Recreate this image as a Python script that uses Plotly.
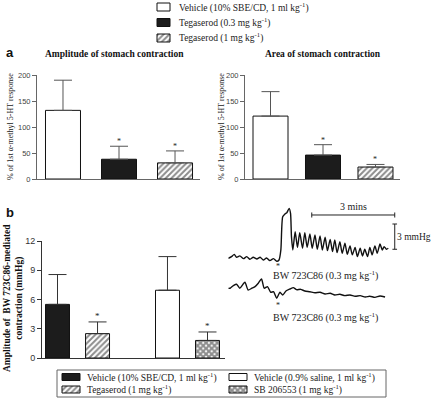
import plotly.graph_objects as go

W, H = 435, 410

# ---------------- data ----------------
# panel a (3 treatment groups)
a_groups = ["Vehicle (10% SBE/CD, 1 ml kg<sup>-1</sup>)",
            "Tegaserod (0.3 mg kg<sup>-1</sup>)",
            "Tegaserod (1 mg kg<sup>-1</sup>)"]
a_keys = ["veh", "teg03", "teg1"]
amp_mean = [132, 38, 31]
amp_err = [58, 25, 23]
area_mean = [121, 46, 23]
area_err = [47, 20, 5]
a_sig = [False, True, True]

# panel b (two experiments, two groups each)
b_groups = ["Vehicle (10% SBE/CD, 1 ml kg<sup>-1</sup>)",
            "Tegaserod (1 mg kg<sup>-1</sup>)",
            "Vehicle (0.9% saline, 1 ml kg<sup>-1</sup>)",
            "SB 206553 (1 mg kg<sup>-1</sup>)"]
b_exp = ["SBE/CD", "SBE/CD", "saline", "saline"]
b_mean = [5.5, 2.5, 6.95, 1.8]
b_err = [3.06, 1.2, 3.45, 0.87]
b_sig = [False, True, False, True]

# recordings (time in s, pressure in mmHg)
rec1_t = [0, 7, 13, 18, 25, 33, 40, 47, 54, 62, 69, 76, 83, 90, 98, 105, 110, 114, 118, 123,
          127, 132, 135, 137, 140, 145, 150, 155, 161, 166, 171, 177, 182, 188, 193, 199, 204,
          210, 215, 221, 226, 231, 236, 242, 247, 253, 258, 264, 269, 275, 280, 286, 291, 296,
          302, 307, 312, 318, 323, 329, 334, 338, 343, 347]
rec1_p = [0, 0.2, 0.47, 0.12, 0.28, -0.04, 0.2, -0.12, 0.12, -0.08, 0.12, -0.2, 0.04, -0.28,
          -0.04, -0.36, -0.2, 0.99, 4.94, 5.26, 5.41, 5.93, 5.34, 2.57, 0.99, 3.16, 1.30, 3.04,
          1.19, 3.04, 1.30, 2.89, 1.19, 2.77, 1.07, 2.65, 0.99, 2.49, 0.91, 2.25, 0.79, 2.17,
          0.67, 1.98, 0.59, 1.78, 0.47, 1.46, 0.40, 1.30, 0.20, 1.19, 0.28, 1.07, 0.20, 1.30,
          0.40, 1.46, 0.59, 1.70, 0.99, 1.38, 1.07, 1.19]
rec2_t = [0, 4, 11, 18, 25, 36, 43, 51, 58, 65, 72, 78, 85, 92, 98, 105, 112, 118, 125, 134,
          141, 148, 157, 166, 177, 188, 199, 210, 221, 231, 242, 253, 264, 275, 286, 297, 307,
          318, 329, 340]
rec2_p = [0.9, 0.92, 1.23, 1.39, 0.92, 1.63, 0.71, 0.92, 1.11, 1.51, 2.02, 0.92, 1.11, 0.44,
          0.51, -0.27, 0.44, 0.12, 0.59, 0.83, 0.99, 0.75, 0.79, 0.59, 0.51, 0.39, 0.44, 0.24,
          0.32, 0.12, 0.20, 0.04, 0.12, -0.04, 0.04, -0.12, -0.04, -0.16, 0, -0.12]
scale_time = 180   # 3 mins
scale_p = 3        # 3 mmHg
rec_label = "BW 723C86 (0.3 mg kg<sup>-1</sup>)"

# ---------------- styles ----------------
SERIF = "Liberation Serif"
SANS = "Liberation Sans"
HATCH = dict(shape="/", size=4, solidity=0.5, fgcolor="#1a1a1a", bgcolor="white")
CROSS = dict(shape="x", size=4, solidity=0.75, fgcolor="#1a1a1a", bgcolor="white")
a_styles = [("white", None), ("#1c1c1c", None), ("white", HATCH)]
b_styles = [("#1c1c1c", None), ("white", HATCH), ("white", None), ("white", CROSS)]
b_offsets = [-0.291, 0.073, -0.291, 0.073]
b_width = 0.218


def px(x):
    return x / W


def py(y):
    return 1 - y / H


def marker(style):
    m = dict(color=style[0], line=dict(color="#111", width=1))
    if style[1]:
        m["pattern"] = style[1]
    return m


def note(x, y, text, size, family=SERIF, color="#222", xa="center", ya="middle", **kw):
    d = dict(x=px(x), y=py(y), xref="paper", yref="paper", text=text, showarrow=False,
             xanchor=xa, yanchor=ya, font=dict(family=family, size=size, color=color))
    d.update(kw)
    return d


fig = go.Figure()

# panel a left
for i in range(3):
    fig.add_trace(go.Bar(
        x=[a_keys[i]], y=[amp_mean[i]], name=a_groups[i], marker=marker(a_styles[i]),
        width=0.625,
        error_y=dict(type="data", symmetric=False, array=[amp_err[i]], arrayminus=[0],
                     color="#555", thickness=1, width=9),
        xaxis="x", yaxis="y", showlegend=False))
# panel a right
for i in range(3):
    fig.add_trace(go.Bar(
        x=[a_keys[i]], y=[area_mean[i]], name=a_groups[i], marker=marker(a_styles[i]),
        width=0.667,
        error_y=dict(type="data", symmetric=False, array=[area_err[i]], arrayminus=[0],
                     color="#555", thickness=1, width=9),
        xaxis="x2", yaxis="y2", showlegend=False))
# panel b
for i in range(4):
    fig.add_trace(go.Bar(
        x=[b_exp[i]], y=[b_mean[i]], name=b_groups[i], marker=marker(b_styles[i]),
        width=b_width, offset=b_offsets[i],
        error_y=dict(type="data", symmetric=False, array=[b_err[i]], arrayminus=[0],
                     color="#333", thickness=1, width=9),
        xaxis="x3", yaxis="y3", showlegend=False))

# recordings
fig.add_trace(go.Scatter(x=rec1_t, y=rec1_p, mode="lines",
                         line=dict(color="#111", width=1.4, shape="spline", smoothing=0.6),
                         xaxis="x4", yaxis="y4", showlegend=False, hoverinfo="skip"))
fig.add_trace(go.Scatter(x=rec2_t, y=rec2_p, mode="lines",
                         line=dict(color="#111", width=1.4, shape="spline", smoothing=0.6),
                         xaxis="x4", yaxis="y5", showlegend=False, hoverinfo="skip"))

# ---- hand-made legends (keys on a pixel-unit overlay axis) ----
ann = []
top_key = dict(x0=157, w=13, h=8, row0=7, dy=15.5, text_x=177)
for i in range(3):
    cy = top_key["row0"] + i * top_key["dy"]
    fig.add_trace(go.Bar(x=[top_key["x0"] + top_key["w"] / 2], y=[top_key["h"]],
                         base=[cy - top_key["h"] / 2], width=[top_key["w"]],
                         marker=marker(a_styles[i]), xaxis="x6", yaxis="y6",
                         showlegend=False, hoverinfo="skip"))
    ann.append(note(top_key["text_x"], cy, a_groups[i], 9.5, xa="left"))
bot_order = [0, 2, 1, 3]
bot_key = dict(cols=[62, 229], w=18, h=7, row0=377, dy=12.5, gap=5)
for k, gi in enumerate(bot_order):
    col, row = k % 2, k // 2
    cy = bot_key["row0"] + row * bot_key["dy"]
    x0 = bot_key["cols"][col]
    fig.add_trace(go.Bar(x=[x0 + bot_key["w"] / 2], y=[bot_key["h"]],
                         base=[cy - bot_key["h"] / 2], width=[bot_key["w"]],
                         marker=marker(b_styles[gi]), xaxis="x6", yaxis="y6",
                         showlegend=False, hoverinfo="skip"))
    ann.append(note(x0 + bot_key["w"] + bot_key["gap"], cy, b_groups[gi], 9.5, xa="left"))

ya_common = dict(range=[0, 200], tickvals=[0, 50, 100, 150, 200], showline=True,
                 linecolor="#666", linewidth=1, ticks="outside", ticklen=4, tickcolor="#666",
                 tickfont=dict(family=SANS, size=7.5, color="#444"), showgrid=False,
                 zeroline=False, fixedrange=True)
xa_common = dict(showline=True, linecolor="#666", linewidth=1, showticklabels=False,
                 ticks="", showgrid=False, zeroline=False, type="category")

fig.update_layout(
    width=W, height=H, margin=dict(l=0, r=0, t=0, b=0, autoexpand=False),
    paper_bgcolor="white", plot_bgcolor="rgba(0,0,0,0)", barmode="overlay",
    showlegend=False,
    xaxis=dict(domain=[px(37), px(200)], range=[-0.464, 2.446], anchor="y", **xa_common),
    yaxis=dict(domain=[py(179), py(75)], anchor="x", **ya_common),
    xaxis2=dict(domain=[px(245), px(400)], range=[-0.486, 2.467], anchor="y2", **xa_common),
    yaxis2=dict(domain=[py(179), py(75)], anchor="x2", **ya_common),
    xaxis3=dict(domain=[px(42), px(225)], range=[-0.323, 1.341], anchor="y3",
                showline=True, linecolor="#333", linewidth=1, showticklabels=False, ticks="",
                showgrid=False, zeroline=False, type="category"),
    yaxis3=dict(domain=[py(358), py(241)], anchor="x3", range=[0, 12],
                tickvals=[0, 3, 6, 9, 12], showline=True, linecolor="#333", linewidth=1,
                ticks="outside", ticklen=4, tickcolor="#333",
                tickfont=dict(family=SANS, size=9, color="#333"), showgrid=False,
                zeroline=False),
    xaxis4=dict(domain=[px(228.3), px(403.5)], range=[0, 380], visible=False, anchor="y4"),
    yaxis4=dict(domain=[py(270), py(200)], range=[-1.39, 6.92], visible=False, anchor="x4"),
    yaxis5=dict(domain=[py(312), py(275)], range=[-1.90, 2.49], visible=False, anchor="x4"),
    xaxis6=dict(domain=[0, 1], range=[0, W], visible=False, anchor="y6", fixedrange=True),
    yaxis6=dict(domain=[0, 1], range=[H, 0], visible=False, anchor="x6", fixedrange=True),
)

# stars over bars
for i in range(3):
    if a_sig[i]:
        ann.append(dict(x=i, y=amp_mean[i] + amp_err[i], xref="x", yref="y", text="*",
                        showarrow=False, xanchor="center", yanchor="bottom", yshift=-2,
                        font=dict(family=SERIF, size=8, color="#222")))
        ann.append(dict(x=i, y=area_mean[i] + area_err[i], xref="x2", yref="y2", text="*",
                        showarrow=False, xanchor="center", yanchor="bottom", yshift=-2,
                        font=dict(family=SERIF, size=8, color="#222")))
exp_index = {"SBE/CD": 0, "saline": 1}
for i in range(4):
    if b_sig[i]:
        cx = exp_index[b_exp[i]] + b_offsets[i] + b_width / 2
        ann.append(dict(x=cx, y=b_mean[i] + b_err[i], xref="x3", yref="y3", text="*",
                        showarrow=False, xanchor="center", yanchor="bottom", yshift=-1,
                        font=dict(family=SERIF, size=9, color="#222")))

# panel labels and titles
ann += [
    note(4, 52, "<b>a</b>", 13, family=SANS, color="#111", xa="left"),
    note(4, 212, "<b>b</b>", 13, family=SANS, color="#111", xa="left"),
    note(114, 54, "<b>Amplitude of stomach contraction</b>", 9.5, color="#111"),
    note(323, 54, "<b>Area of stomach contraction</b>", 9.5, color="#111"),
    note(10, 127, "% of 1st α-methyl 5-HT response", 8, textangle=-90),
    note(221, 127, "% of 1st α-methyl 5-HT response", 8, textangle=-90),
    note(13, 298, "<b>Amplitude of  BW 723C86-mediated<br>contraction (mmHg)</b>", 9.5,
         color="#111", textangle=-90),
]

# recording annotations
ann += [
    note(278, 266, "*", 8),
    note(278, 305, "*", 8),
    note(325, 275, rec_label, 10),
    note(325, 317, rec_label, 10),
]
t0 = 181
bar_p = 5.14
ann += [
    dict(x=t0 + scale_time / 2, y=bar_p, xref="x4", yref="y4", text="3 mins", showarrow=False,
         xanchor="center", yanchor="bottom", yshift=1,
         font=dict(family=SERIF, size=10, color="#222")),
    dict(x=t0 + scale_time, y=1.07 + scale_p / 2, xref="x4", yref="y4", text="3 mmHg",
         showarrow=False, xanchor="left", yanchor="middle", xshift=0,
         font=dict(family=SERIF, size=9.5, color="#222")),
]
fig.update_layout(annotations=ann)

ln = dict(color="#222", width=1)
shapes = [
    dict(type="line", xref="x4", yref="y4", x0=t0, x1=t0 + scale_time, y0=bar_p, y1=bar_p, line=ln),
    dict(type="line", xref="x4", yref="y4", x0=t0, x1=t0, y0=bar_p - 0.3, y1=bar_p + 0.3, line=ln),
    dict(type="line", xref="x4", yref="y4", x0=t0 + scale_time, x1=t0 + scale_time,
         y0=bar_p - 0.3, y1=bar_p + 0.3, line=ln),
    dict(type="line", xref="x4", yref="y4", x0=t0 + scale_time, x1=t0 + scale_time,
         y0=1.07, y1=1.07 + scale_p, line=ln),
    dict(type="line", xref="x4", yref="y4", x0=t0 + scale_time - 5, x1=t0 + scale_time + 5,
         y0=1.07, y1=1.07, line=ln),
    dict(type="line", xref="x4", yref="y4", x0=t0 + scale_time - 5, x1=t0 + scale_time + 5,
         y0=1.07 + scale_p, y1=1.07 + scale_p, line=ln),
    dict(type="rect", xref="paper", yref="paper", x0=px(57), x1=px(386), y0=py(397),
         y1=py(370), line=dict(color="#666", width=1)),
]
fig.update_layout(shapes=shapes)

# remove the default page margin so the 435x410 figure fills the window exactly
fig.write_html("out.html", config={"displayModeBar": False},
               post_script="document.body.style.margin='0';")
